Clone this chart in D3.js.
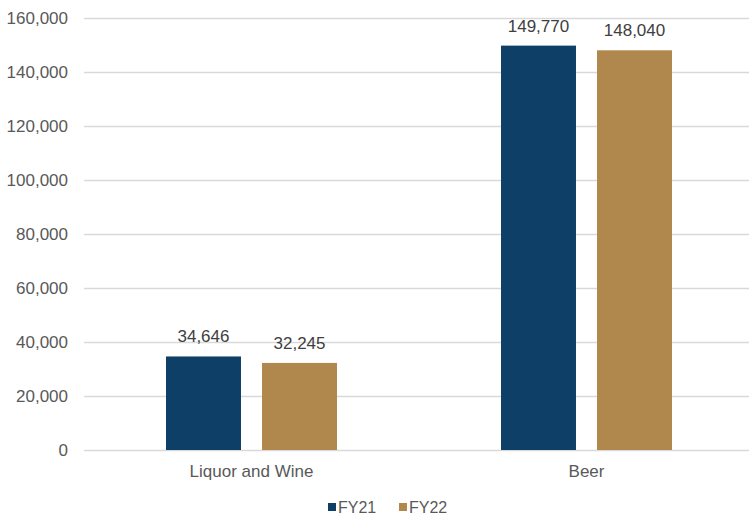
<!DOCTYPE html>
<html><head><meta charset="utf-8">
<script src="https://cdn.jsdelivr.net/npm/d3@7"></script>
<style>body{margin:0;background:#fff;} svg{display:block;font-family:"Liberation Sans",Arial,sans-serif;}</style>
</head><body>
<script>
const categories = ["Liquor and Wine", "Beer"];
const seriesNames = ["FY21", "FY22"];
const fy21 = [34646, 149770];
const fy22 = [32245, 148040];
const yTicks = [0, 20000, 40000, 60000, 80000, 100000, 120000, 140000, 160000];
const colors = ["#0E4067", "#B0884D"];

const W = 749, H = 517;
const svg = d3.select("body").append("svg").attr("width", W).attr("height", H);
const x0 = d3.scaleBand().domain(categories).range([84, 754]).paddingInner(0).paddingOuter(0);
const x1 = d3.scaleBand().domain(seriesNames).range([0, x0.bandwidth()]).paddingInner(0.219).paddingOuter(0.854);
const y = d3.scaleLinear().domain([0, 160000]).range([450, 18]);

const yAxis = d3.axisLeft(y).tickValues(yTicks).tickSize(-(749 - 84)).tickFormat(d3.format(","));
const gy = svg.append("g").attr("transform", "translate(84,0)").call(yAxis);
gy.select(".domain").remove();
gy.selectAll(".tick line").attr("stroke", "#D9D9D9").attr("stroke-width", 1.3);
gy.selectAll(".tick text").attr("x", -16).attr("fill", "#595959").style("font-size", "17px");

const data = categories.map((c, i) => ({cat: c, vals: [fy21[i], fy22[i]]}));
const g = svg.selectAll(".cat").data(data).enter().append("g").attr("transform", d => `translate(${x0(d.cat)},0)`);
g.selectAll("rect").data(d => d.vals.map((v, j) => ({s: seriesNames[j], v, j}))).enter().append("rect")
  .attr("x", d => x1(d.s)).attr("width", x1.bandwidth())
  .attr("y", d => y(d.v)).attr("height", d => y(0) - y(d.v))
  .attr("fill", d => colors[d.j]);
g.selectAll("text.lbl").data(d => d.vals.map((v, j) => ({s: seriesNames[j], v, j}))).enter().append("text")
  .attr("class", "lbl")
  .attr("x", d => x1(d.s) + x1.bandwidth() / 2).attr("y", d => y(d.v) - 14)
  .attr("text-anchor", "middle").attr("fill", "#404040").style("font-size", "17px")
  .text(d => d3.format(",")(d.v));

const xAxis = d3.axisBottom(x0).tickSize(0);
const gx = svg.append("g").attr("transform", "translate(0,450)").call(xAxis);
gx.select(".domain").remove();
gx.selectAll(".tick text").attr("dy", "0").attr("y", 27).attr("fill", "#595959").style("font-size", "17px");

const legend = svg.append("g");
const lx = [328, 399];
seriesNames.forEach((s, i) => {
  legend.append("rect").attr("x", lx[i]).attr("y", 503).attr("width", 8).attr("height", 8).attr("fill", colors[i]);
  legend.append("text").attr("x", lx[i] + 10).attr("y", 513).attr("fill", "#595959").style("font-size", "16px").text(s);
});
</script>
</body></html>
